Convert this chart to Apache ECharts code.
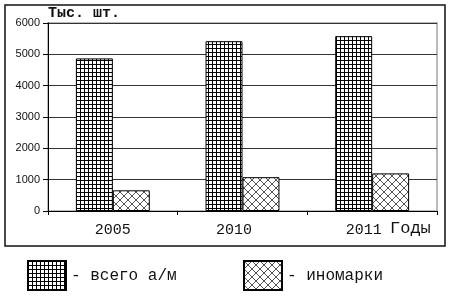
<!DOCTYPE html>
<html><head><meta charset="utf-8">
<script src="https://cdn.jsdelivr.net/npm/echarts@6/dist/echarts.min.js"></script>
<style>html,body{margin:0;padding:0;background:#fff}#c{width:450px;height:300px}</style>
</head><body><div id="c"></div>
<script>
const categories = ['2005', '2010', '2011'];
const totalCars = [4870, 5420, 5580];
const foreignCars = [660, 1080, 1200];
const yTicks = { min: 0, max: 6000, interval: 1000 };
const seriesNames = ['- всего а/м', '- иномарки'];

function gridPattern() {
  const c = document.createElement('canvas');
  c.width = 4; c.height = 4;
  const g = c.getContext('2d');
  g.fillStyle = '#fff'; g.fillRect(0, 0, 4, 4);
  g.fillStyle = '#000'; g.fillRect(0, 0, 4, 1); g.fillRect(0, 0, 1, 4);
  return c;
}
function crossPattern() {
  const c = document.createElement('canvas');
  c.width = 8; c.height = 8;
  const g = c.getContext('2d');
  g.fillStyle = '#fff'; g.fillRect(0, 0, 8, 8);
  g.strokeStyle = '#555'; g.lineWidth = 1;
  g.beginPath();
  g.moveTo(0, 0); g.lineTo(8, 8);
  g.moveTo(8, 0); g.lineTo(0, 8);
  g.stroke();
  return c;
}

const chart = echarts.init(document.getElementById('c'), null, { renderer: 'canvas' });
const mono = '"Liberation Mono", "DejaVu Sans Mono", monospace';
chart.setOption({
  animation: false,
  backgroundColor: '#fff',
  grid: { left: 48, right: 13, top: 23, bottom: 89, show: true, borderColor: '#bbb', borderWidth: 2 },
  graphic: [
    { type: 'rect', shape: { x: 5, y: 5, width: 440, height: 241 }, style: { fill: 'none', stroke: '#111', lineWidth: 1.5 }, z: 100 },
    { type: 'text', left: 390, top: 220, style: { text: 'Годы', font: '17px ' + mono, fill: '#111' } }
  ],
  legend: [
    { data: [seriesNames[0]], left: 27, top: 260, padding: 0, itemWidth: 38, itemHeight: 29, icon: 'rect',
      textStyle: { fontFamily: mono, fontSize: 16, color: '#111' } },
    { data: [seriesNames[1]], left: 243, top: 260, padding: 0, itemWidth: 38, itemHeight: 29, icon: 'rect',
      textStyle: { fontFamily: mono, fontSize: 16, color: '#111' } }
  ],
  xAxis: {
    type: 'category', data: categories,
    axisLine: { lineStyle: { color: '#000', width: 1 } },
    axisTick: { show: true, length: 4, alignWithLabel: false, interval: 0, lineStyle: { color: '#000' } },
    axisLabel: {
      margin: 12, interval: 0,
      formatter: (v, i) => i === 0 ? '{n|' + v + '}' : '{s|' + v + '}',
      rich: {
        n: { fontFamily: mono, fontSize: 15, color: '#111' },
        s: { fontFamily: mono, fontSize: 15, color: '#111', padding: [0, 17, 0, 0] }
      }
    }
  },
  yAxis: {
    type: 'value', min: yTicks.min, max: yTicks.max, interval: yTicks.interval,
    name: 'Тыс. шт.', nameLocation: 'end', nameGap: 2,
    nameTextStyle: { align: 'left', fontFamily: mono, fontSize: 15, fontWeight: 'bold', color: '#111' },
    axisLine: { show: true, lineStyle: { color: '#000', width: 1 } },
    axisTick: { show: true, length: 5, lineStyle: { color: '#000' } },
    axisLabel: { margin: 8, fontFamily: '"Liberation Sans", Arial, sans-serif', fontSize: 11, color: '#111',
      formatter: v => String(v) },
    splitLine: { show: true, lineStyle: { color: '#333', width: 1 } }
  },
  series: [
    { name: seriesNames[0], type: 'bar', data: totalCars, barGap: '0%', barCategoryGap: '43%',
      itemStyle: { color: { image: gridPattern(), repeat: 'repeat' }, borderColor: '#000', borderWidth: 1 } },
    { name: seriesNames[1], type: 'bar', data: foreignCars,
      itemStyle: { color: { image: crossPattern(), repeat: 'repeat' }, borderColor: '#000', borderWidth: 1 } }
  ]
});
</script></body></html>
